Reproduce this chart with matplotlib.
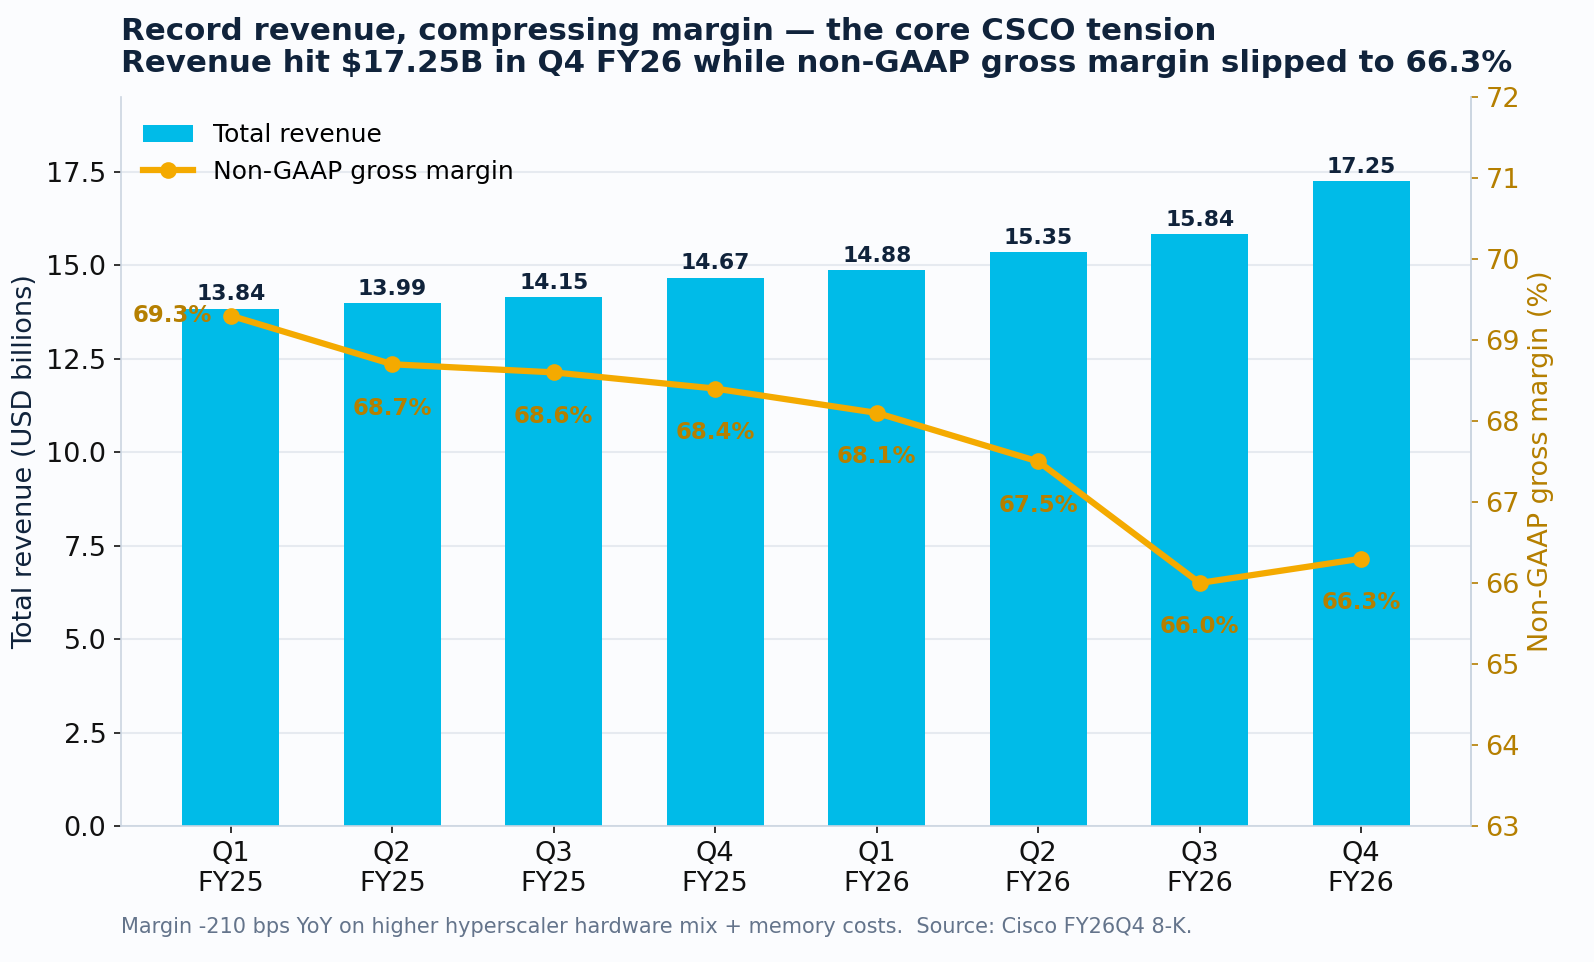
import matplotlib
matplotlib.use("Agg")
import matplotlib.pyplot as plt
import numpy as np


QUARTERS = ["Q1\nFY25", "Q2\nFY25", "Q3\nFY25", "Q4\nFY25",
            "Q1\nFY26", "Q2\nFY26", "Q3\nFY26", "Q4\nFY26"]
REVENUE = [13.84, 13.99, 14.15, 14.67, 14.88, 15.35, 15.84, 17.25]
MARGIN = [69.3, 68.7, 68.6, 68.4, 68.1, 67.5, 66.0, 66.3]

BG = "#fbfcfe"
NAVY = "#10233b"
BAR_BLUE = "#00bbe8"
LINE_ORANGE = "#f4aa00"
GOLD = "#b57f00"
SPINE = "#cbd5e1"
GRID = "#e6eaf0"


def main():
    fig = plt.figure(figsize=(1594 / 150, 962 / 150), dpi=150, facecolor=BG)
    ax = fig.add_axes([0.0759, 0.1414, 0.8469, 0.7578])
    ax.set_facecolor(BG)

    x = np.arange(len(QUARTERS))
    bars = ax.bar(x, REVENUE, width=0.6, color=BAR_BLUE, label="Total revenue", zorder=2)
    ax.bar_label(bars, labels=[f"{v:.2f}" for v in REVENUE], padding=2,
                 fontsize=10.5, fontweight="bold", color=NAVY)

    ax.set_ylim(0, 19.5)
    ax.set_yticks(np.arange(0, 17.6, 2.5))
    ax.set_xticks(x)
    ax.set_xticklabels(QUARTERS)
    ax.tick_params(axis="both", labelsize=13, colors="#111111")
    ax.set_ylabel("Total revenue (USD billions)", fontsize=13, color=NAVY)
    ax.grid(axis="y", color=GRID, linewidth=1, zorder=0)
    ax.set_axisbelow(True)
    for side in ["left", "bottom", "right"]:
        ax.spines[side].set_color(SPINE)
    ax.spines["top"].set_visible(False)

    ax2 = ax.twinx()
    line, = ax2.plot(x, MARGIN, color=LINE_ORANGE, linewidth=3, marker="o",
                     markersize=7, label="Non-GAAP gross margin", zorder=3)
    ax2.set_ylim(63, 72)
    ax2.set_yticks(range(63, 73))
    ax2.tick_params(axis="y", labelsize=13, colors=GOLD)
    ax2.set_ylabel("Non-GAAP gross margin (%)", fontsize=13, color=GOLD)
    ax2.spines["right"].set_color(SPINE)
    for side in ["top", "left", "bottom"]:
        ax2.spines[side].set_visible(False)

    for i, m in enumerate(MARGIN):
        if i == 0:
            ax2.annotate(f"{m:.1f}%", (x[i], m), xytext=(-9, 0), textcoords="offset points",
                         ha="right", va="center", fontsize=11, fontweight="bold", color=GOLD)
        else:
            ax2.annotate(f"{m:.1f}%", (x[i], m), xytext=(0, -21), textcoords="offset points",
                         ha="center", va="center", fontsize=11, fontweight="bold", color=GOLD)

    ax2.legend(handles=[bars, line], loc="upper left", frameon=False, fontsize=12,
               bbox_to_anchor=(0.0, 0.995))

    ax.set_title("Record revenue, compressing margin \u2014 the core CSCO tension\n"
                 "Revenue hit $17.25B in Q4 FY26 while non-GAAP gross margin slipped to 66.3%",
                 loc="left", fontsize=14.8, fontweight="bold", color=NAVY, pad=12,
                 linespacing=1.12)

    fig.text(0.0759, 0.036, "Margin -210 bps YoY on higher hyperscaler hardware mix + memory costs.  "
             "Source: Cisco FY26Q4 8-K.", fontsize=10, color="#64748b", va="center")

    fig.savefig("out.png", dpi=150, facecolor=BG)
    plt.close(fig)


if __name__ == "__main__":
    main()
